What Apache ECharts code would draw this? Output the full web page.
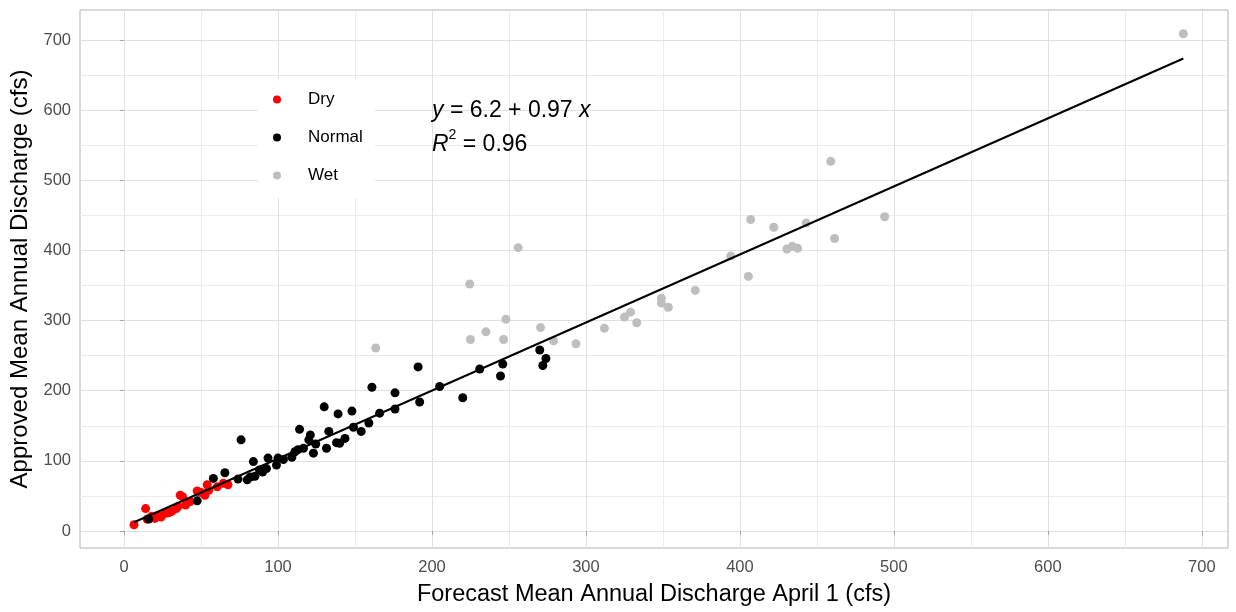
<!DOCTYPE html>
<html>
<head>
    <meta charset="utf-8">
    <title>Forecast vs Approved Discharge</title>
    <script src="https://cdn.jsdelivr.net/npm/echarts@6/dist/echarts.min.js"></script>
</head>
<body style="margin:0;">
    <div id="main" style="width:1236px;height:612px;"></div>

    <script type="text/javascript">
        // points, [forecast, approved]
        var dryPoints = [
            [6.5, 9], [14, 32], [15, 17], [18, 21], [20, 18], [22, 22], [24, 20], [26.5, 25],
            [29, 26], [31, 28], [34, 32], [35, 35], [36.5, 51], [38, 49], [40, 37], [43, 42],
            [47.5, 57], [50, 55], [52.5, 51], [54, 66], [55, 58], [60.5, 63], [64.5, 68], [67.5, 66]
        ];
        var normalPoints = [
            [16, 17], [47.5, 43], [58, 75], [65.5, 83], [74, 74], [76, 130], [80, 73], [82, 77],
            [84, 99], [85, 78], [88, 87], [90, 84], [92.5, 89], [93.5, 104], [99, 94], [100, 104],
            [103.5, 102], [109, 105], [111, 113], [113, 116], [114, 145], [116.5, 118], [120, 130],
            [121, 137], [123, 111], [124.5, 124], [130, 177], [131.5, 118], [133, 142], [138, 126],
            [139, 167], [140, 125], [143.5, 132], [148, 171], [149, 148], [154, 142], [159, 154],
            [161, 205], [166, 168], [176, 197], [176, 174], [191, 234], [192, 184], [205, 206],
            [220, 190], [231, 231], [244.5, 221], [246, 238], [270, 258], [272, 236], [274, 246]
        ];
        var wetPoints = [
            [163.5, 261], [224.5, 352], [225, 273], [235, 284], [246.5, 273], [248, 302], [256, 404],
            [270.5, 290], [279, 271], [293.5, 267], [312, 289], [325, 305], [329, 312], [333, 297],
            [349, 332], [349, 325], [353.5, 319], [371, 343], [394, 392], [405.5, 363], [407, 444],
            [422, 433], [430.5, 402], [434, 406], [437.5, 403], [443, 439], [459, 527], [461.5, 417],
            [494, 448], [688, 709]
        ];
        // fitted line y = 6.2 + 0.97 x, ends
        var fitLine = [[6.5, 12.5], [688, 673.6]];

        var xTicks = [0, 100, 200, 300, 400, 500, 600, 700];
        var yTicks = [0, 100, 200, 300, 400, 500, 600, 700];
        var xMinor = [50, 150, 250, 350, 450, 550, 650];
        var yMinor = [50, 150, 250, 350, 450, 550, 650];

        var gridLines = [];
        xMinor.forEach(function (v) { gridLines.push({ xAxis: v, lineStyle: { color: '#ebebeb' } }); });
        yMinor.forEach(function (v) { gridLines.push({ yAxis: v, lineStyle: { color: '#ebebeb' } }); });
        xTicks.forEach(function (v) { gridLines.push({ xAxis: v, lineStyle: { color: '#e0e0e0' } }); });
        yTicks.forEach(function (v) { gridLines.push({ yAxis: v, lineStyle: { color: '#e0e0e0' } }); });

        var myChart = echarts.init(document.getElementById('main'));

        var option = {
            animation: false,
            backgroundColor: '#fff',
            grid: {
                left: 80, right: 8, top: 10, bottom: 64,
                show: true,
                borderColor: '#b3b3b3',
                borderWidth: 1,
                backgroundColor: 'transparent'
            },
            legend: {
                orient: 'vertical',
                left: 258,
                top: 79,
                z: 6,
                padding: [12, 12, 14, 15],
                backgroundColor: '#fff',
                itemWidth: 8,
                itemHeight: 8,
                itemGap: 21,
                textStyle: {
                    fontFamily: 'Liberation Sans',
                    fontSize: 17,
                    color: '#000',
                    padding: [0, 0, 0, 22]
                },
                data: [
                    { name: 'Dry', icon: 'circle' },
                    { name: 'Normal', icon: 'circle' },
                    { name: 'Wet', icon: 'circle' }
                ]
            },
            graphic: [{
                type: 'text',
                left: 432,
                top: 94,
                z: 10,
                style: {
                    text: '{i|y} = 6.2 + 0.97 {i|x}\n{i|R}{s|2} = 0.96',
                    fontFamily: 'Liberation Sans',
                    fontSize: 23,
                    lineHeight: 34,
                    fill: '#000',
                    rich: {
                        i: { fontStyle: 'italic', fontSize: 23, fontFamily: 'Liberation Sans' },
                        s: { fontSize: 14, verticalAlign: 'top', padding: [0, 0, 12, 0], fontFamily: 'Liberation Sans' }
                    }
                }
            }],
            xAxis: {
                type: 'value',
                min: -28.6,
                max: 717,
                name: 'Forecast Mean Annual Discharge April 1 (cfs)',
                nameLocation: 'middle',
                nameGap: 35,
                nameTextStyle: { fontFamily: 'Liberation Sans', fontSize: 23.5, color: '#000' },
                axisLine: { show: false },
                axisTick: { show: true, length: 4, customValues: xTicks, lineStyle: { color: '#a6a6a6' } },
                axisLabel: { customValues: xTicks, margin: 11, fontFamily: 'Liberation Sans', fontSize: 16.5, color: '#4d4d4d' },
                splitLine: { show: false }
            },
            yAxis: {
                type: 'value',
                min: -24.2,
                max: 742.8,
                name: 'Approved Mean Annual Discharge (cfs)',
                nameLocation: 'middle',
                nameGap: 46,
                nameTextStyle: { fontFamily: 'Liberation Sans', fontSize: 24, color: '#000' },
                axisLine: { show: false },
                axisTick: { show: true, length: 4, customValues: yTicks, lineStyle: { color: '#a6a6a6' } },
                axisLabel: { customValues: yTicks, margin: 9, fontFamily: 'Liberation Sans', fontSize: 16.5, color: '#4d4d4d' },
                splitLine: { show: false }
            },
            series: [
                {
                    name: 'grid',
                    type: 'line',
                    data: [],
                    silent: true,
                    z: 0,
                    markLine: {
                        silent: true,
                        z: 0,
                        symbol: 'none',
                        label: { show: false },
                        lineStyle: { type: 'solid', width: 1 },
                        emphasis: { disabled: true },
                        animation: false,
                        data: gridLines
                    }
                },
                {
                    name: 'Dry',
                    type: 'scatter',
                    symbolSize: 9,
                    itemStyle: { color: '#ff0000', opacity: 1 },
                    data: dryPoints,
                    z: 3
                },
                {
                    name: 'Normal',
                    type: 'scatter',
                    symbolSize: 9,
                    itemStyle: { color: '#000000', opacity: 1 },
                    data: normalPoints,
                    z: 3
                },
                {
                    name: 'Wet',
                    type: 'scatter',
                    symbolSize: 9,
                    itemStyle: { color: '#bebebe', opacity: 1 },
                    data: wetPoints,
                    z: 3
                },
                {
                    name: 'fit',
                    type: 'line',
                    data: fitLine,
                    showSymbol: false,
                    symbol: 'none',
                    lineStyle: { color: '#000', width: 2 },
                    z: 4
                }
            ]
        };

        myChart.setOption(option);
    </script>
</body>
</html>
